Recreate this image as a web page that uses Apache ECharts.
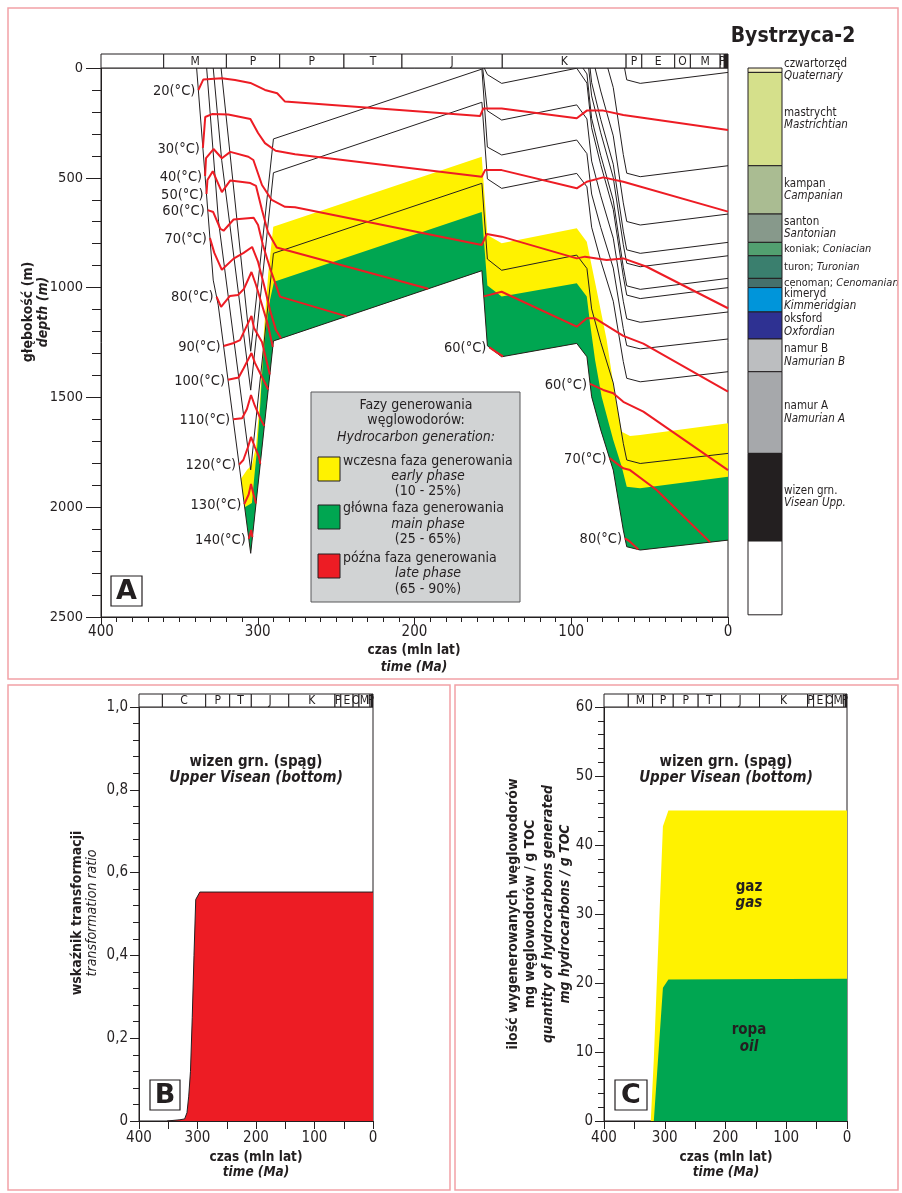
<!DOCTYPE html>
<html>
<head>
<meta charset="utf-8">
<script src="https://cdn.jsdelivr.net/npm/echarts/dist/echarts.min.js"></script>
<style>
html,body{margin:0;padding:0;background:#fff}
#chart{width:902px;height:1193px}
</style>
</head>
<body>
<div id="chart"></div>
<script>
// ---------- geological time scale (Ma) ----------
const stripA = [['',400,360],['M',360,320],['P',320,286],['P',286,245],['T',245,208],['J',208,144],['K',144,65],['P',65,55],['E',55,34],['O',34,24],['M',24,5],['P',5,2.4],['Q',2.4,0]];
const stripB = [['',400,360],['C',360,286],['P',286,245],['T',245,208],['J',208,144],['K',144,65],['P',65,55],['E',55,34],['O',34,24],['M',24,5],['P',5,2.4],['Q',2.4,0]];
const stripC = stripA;

// ---------- present-day stratigraphy, Bystrzyca-2 (m) ----------
const layerNamesPL = ['czwartorzęd','mastrycht','kampan','santon','koniak; ','turon; ','cenoman; ','kimeryd','oksford','namur B','namur A','wizen grn.',''];
const layerNamesEN = ['Quaternary','Mastrichtian','Campanian','Santonian','Coniacian','Turonian','Cenomanian','Kimmeridgian','Oxfordian','Namurian B','Namurian A','Visean Upp.',''];
const layerTops  = [0, 20, 445, 665, 794, 855, 958, 1000, 1111, 1234, 1383, 1755, 2154];
const layerBases = [20, 445, 665, 794, 855, 958, 1000, 1111, 1234, 1383, 1755, 2154, 2490];

// ---------- burial history: horizons [age Ma, depth m] ----------
const wizenBase = [[339,0],[328.4,966],[325.2,1080],[304.5,2210],[290,1243],[157,923],[153.5,1265],[144.4,1315],[96.5,1254],[90,1315],[87,1497],[81.2,1648],[73.2,1831],[66.8,2104],[64.6,2180],[56,2195],[0,2150]];
const wizenTop  = [[332.6,0],[325,700],[304.5,1830],[290,844],[157,525],[153.5,870],[144.4,921],[96.5,852],[90,913],[87,1097],[81.2,1249],[73.2,1434],[66.8,1709],[64.6,1785],[56,1801],[0,1755]];
const namurATop = [[328.4,0],[323,420],[304.5,1467],[290,477],[157,156],[153.5,505],[144.4,548],[96.5,480],[90,541],[87,725],[81.2,877],[73.2,1062],[66.8,1337],[64.6,1413],[56,1429],[0,1383]];
const namurBTop = [[323.4,0],[304.5,1290],[290,323],[157,5],[153.5,360],[144.4,396],[96.5,328],[90,390],[87,574],[81.2,726],[73.2,911],[66.8,1187],[64.6,1264],[56,1279],[0,1234]];
const oxfordTop = [[156.5,0],[153.5,195],[144.4,237],[96.5,168],[90,232],[87,424],[81.2,582],[73.2,775],[66.8,1062],[64.6,1142],[56,1158],[0,1111]];
const kimmTop   = [[155.5,0],[153.5,30],[144.4,70],[96.5,1],[90,69],[87,272],[81.2,440],[73.2,644],[66.8,949],[64.6,1034],[56,1050],[0,1000]];
const cenomanTop = [[92.6,0],[90,27],[87,230],[81.2,398],[73.2,602],[66.8,907],[64.6,992],[56,1008],[0,958]];
const turonTop   = [[88.9,0],[87,127],[81.2,295],[73.2,499],[66.8,804],[64.6,889],[56,905],[0,855]];
const coniacTop  = [[88,0],[87,66],[81.2,234],[73.2,438],[66.8,743],[64.6,828],[56,844],[0,794]];
const santonTop  = [[84.8,0],[81.2,105],[73.2,309],[66.8,614],[64.6,699],[56,715],[0,665]];
const campanTop  = [[76.7,0],[73.2,89],[66.8,394],[64.6,479],[56,495],[0,445]];
const maastrTop  = [[66,0],[64.6,54],[56,70],[0,20]];

// ---------- maturity zone boundaries ----------
const earlyTop = [[310.7,1870],[306.9,1831],[303.7,1808],[301.1,1721],[298.6,1512],[296.0,1193],[293.3,935],[290.1,723],[157.1,404],[153.5,760],[144.4,798],[96.5,730],[90.1,791],[83.8,1011],[77.4,1239],[72.1,1489],[67.8,1656],[62.5,1676],[56.1,1671],[0,1618]];
const mainTop  = [[308.3,2000],[303.7,1981],[302.4,1876],[300.5,1740],[298.6,1557],[296.7,1330],[294.8,1193],[292.2,1057],[289.6,973],[157.1,656],[153.5,990],[144.4,1041],[96.5,980],[90.1,1041],[88.0,1163],[84.8,1330],[80.6,1497],[73.2,1694],[67.8,1816],[64.6,1907],[56.1,1914],[0,1861]];

// ---------- isotherms ----------
const iso20  = [[337.9,100],[334.7,52],[323,47],[314.5,55],[304.7,68],[295.4,100],[287.6,115],[282.6,153],[158.2,219],[156.1,184],[144.4,184],[96.5,229],[90.1,194],[79.6,194],[66.8,214],[0,282]];
const iso30  = [[335,364],[333.5,223],[329.2,210],[318.8,212],[304.7,232],[299.8,296],[295.4,342],[288.6,377],[276.2,393],[157.1,495],[155,465],[144.4,465],[96.5,548],[90.1,518],[79.6,498],[66.8,518],[0,654]];
const iso40  = [[333.6,492],[333,410],[328.2,369],[322.9,411],[317.5,382],[306,404],[302.8,419],[297.3,533],[291.1,601],[282.6,632],[276.2,634],[157.1,806],[153.9,756],[144.4,768],[96.5,867],[91.2,859],[77.4,874],[66.8,867],[51.9,905],[0,1094]];
const iso50a = [[332.7,574],[332.1,510],[328.7,470],[322.9,565],[317.5,512],[304.7,524],[301.1,537],[297.3,647],[293.5,747],[287.9,817],[191.2,1005]];
const iso50b = [[155.8,1040],[144.4,1019],[96.5,1178],[90.1,1140],[84.8,1140],[66.8,1220],[54,1255],[0,1474]];
const iso60a = [[331.9,647],[328.4,656],[323.9,732],[321.8,741],[315.4,690],[302.6,682],[299.8,715],[296.7,806],[292.2,911],[285.8,1041],[243.3,1131]];
const iso60b = [[152.2,1272],[148,1293],[143.5,1313]];
const iso60c = [[88,1438],[79.6,1466],[73.2,1481],[66.8,1520],[54,1565],[0,1831]];
const iso70a = [[330.5,774],[327.7,842],[322.9,919],[315.4,868],[309,842],[303.6,815],[299.8,883],[296,988],[292.2,1102],[288.4,1193],[285.2,1230]];
const iso70b = [[75.6,1776],[66.8,1823],[62.5,1831],[45.5,1922],[11.5,2159]];
const iso80a = [[326.3,1041],[323.4,1088],[317.7,1038],[312.6,1034],[308.8,1006],[304,929],[301.1,988],[296.7,1093],[293.5,1170],[290.4,1270]];
const iso80b = [[65.7,2142],[62.5,2157],[57.2,2192]];
const iso90  = [[321.8,1266],[315.2,1252],[311.3,1239],[304,1129],[302.4,1184],[297.3,1248],[292.3,1396]];
const iso100 = [[319,1420],[312.2,1409],[309,1367],[304,1298],[301.8,1343],[297.3,1407],[293.3,1464]];
const iso110 = [[315.7,1599],[310,1595],[306.9,1553],[304.3,1489],[301.8,1539],[297.9,1603],[295.8,1630]];
const iso120 = [[311.9,1806],[309.2,1785],[306.2,1726],[304.3,1680],[301.8,1726],[299.2,1771],[298.4,1803]];
const iso130 = [[308.6,1986],[305.8,1942],[304.3,1894],[302.6,1944],[301.1,1983]];
const iso140 = [[305.7,2144],[304.2,2104],[303.4,2137]];

// ---------- transformation ratio (panel B) ----------
const trAges   = [352, 330, 322, 318, 315, 312, 309, 306, 303, 296, 0];
const trValues = [0, 0.003, 0.005, 0.02, 0.06, 0.12, 0.25, 0.40, 0.535, 0.553, 0.553];

// ---------- generated hydrocarbons, mg HC / g TOC (panel C) ----------
const hcAges    = [323, 318, 303, 294, 0];
const oilValues = [0, 0, 19.3, 20.5, 20.6];
const gasValues = [0, 9, 23.4, 24.5, 24.4];

// ---------- styling ----------
const FONT = '"DejaVu Sans Condensed", "Liberation Sans Narrow", sans-serif';
const INK = '#231f20';
const YELLOW = '#fff200', GREEN = '#00a651', RED = '#ed1c24';
const layerColors = ['#f4f0c2','#d5e08b','#aabc92','#87998b','#52a070','#3a7f6e','#45706b','#0095da','#2e3192','#bcbec0','#a6a8ab','#231f20','#ffffff'];

const horizons = [wizenBase, wizenTop, namurATop, namurBTop, oxfordTop, kimmTop, cenomanTop, turonTop, coniacTop, santonTop, campanTop, maastrTop];
const isoSegments = [
  [20, iso20, true], [30, iso30, true], [40, iso40, true], [50, iso50a, true], [50, iso50b, false],
  [60, iso60a, true], [60, iso60b, true], [60, iso60c, true], [70, iso70a, true], [70, iso70b, true],
  [80, iso80a, true], [80, iso80b, true], [90, iso90, true], [100, iso100, true], [110, iso110, true],
  [120, iso120, true], [130, iso130, true], [140, iso140, true]
];

// closing edge of the maturity polygons: the source-rock base from today back to maximum burial
const vBottom = wizenBase.findIndex(p => p[0] === 304.5);
const baseBack = wizenBase.slice(vBottom).reverse();

function polygonSeries(points, color, z) {
  return {
    type: 'custom', xAxisIndex: 0, yAxisIndex: 0, z: z, silent: true, data: [[0, 0]],
    renderItem: (params, api) => ({
      type: 'polygon',
      shape: { points: points.map(p => api.coord(p)) },
      style: { fill: color }
    })
  };
}

function stripSeries(cells, xi, yi) {
  return {
    type: 'custom', xAxisIndex: xi, yAxisIndex: yi, z: 5, silent: true,
    data: cells.map((c, i) => [c[1], 0, i]),
    renderItem: (params, api) => {
      const c = cells[params.dataIndex];
      const a = api.coord([c[1], 1]);
      const b = api.coord([c[2], 0]);
      const x0 = Math.min(a[0], b[0]);
      const w = Math.abs(b[0] - a[0]);
      const dark = c[0] === 'Q';
      return {
        type: 'group',
        children: [
          { type: 'rect', shape: { x: x0, y: a[1], width: w, height: b[1] - a[1] },
            style: { fill: dark ? INK : '#fff', stroke: INK, lineWidth: 1 } },
          { type: 'text', style: { text: dark ? '' : c[0], x: x0 + w / 2, y: (a[1] + b[1]) / 2 + 0.5,
            align: 'center', verticalAlign: 'middle', textAlign: 'center', textVerticalAlign: 'middle',
            font: '12px ' + FONT, fill: INK } }
        ]
      };
    }
  };
}

const columnSeries = {
  type: 'custom', xAxisIndex: 1, yAxisIndex: 1, z: 5, silent: true,
  data: layerTops.map((t, i) => [0, t, i]),
  renderItem: (params, api) => {
    const i = params.dataIndex;
    const a = api.coord([0, layerTops[i]]);
    const b = api.coord([1, layerBases[i]]);
    const children = [
      { type: 'rect', shape: { x: a[0], y: a[1], width: b[0] - a[0], height: b[1] - a[1] },
        style: { fill: layerColors[i], stroke: INK, lineWidth: 1 } }
    ];
    if (layerNamesPL[i]) {
      const oneLine = layerNamesPL[i].endsWith('; ');
      const fs = oneLine ? 11 : 11.5;
      const txt = oneLine ? '{a|' + layerNamesPL[i] + '}{b|' + layerNamesEN[i] + '}'
                          : '{a|' + layerNamesPL[i] + '}\n{b|' + layerNamesEN[i] + '}';
      children.push({ type: 'text', style: {
        text: txt, x: b[0] + 2, y: (a[1] + b[1]) / 2,
        align: 'left', verticalAlign: 'middle', textAlign: 'left', textVerticalAlign: 'middle',
        fill: INK,
        rich: {
          a: { fontFamily: FONT, fontSize: fs, lineHeight: 12.5, fill: INK, color: INK },
          b: { fontFamily: FONT, fontSize: fs, lineHeight: 12.5, fontStyle: 'italic', fill: INK, color: INK }
        }
      } });
    }
    return { type: 'group', children: children };
  }
};

// temperature labels, placed at the first point of each labelled isotherm segment
const isoLabelSeries = {
  type: 'custom', xAxisIndex: 0, yAxisIndex: 0, z: 6, silent: true,
  data: isoSegments.filter(s => s[2]).map(s => [s[1][0][0], s[1][0][1], s[0]]),
  renderItem: (params, api) => {
    const p = api.coord([api.value(0), api.value(1)]);
    return { type: 'text', style: {
      text: api.value(2) + '(°C)', x: p[0] - 3, y: p[1] + 1,
      align: 'right', verticalAlign: 'middle', textAlign: 'right', textVerticalAlign: 'middle',
      font: '14.5px ' + FONT, fill: INK } };
  }
};

const series = [];
series.push(polygonSeries(earlyTop.concat(baseBack), YELLOW, 1));
series.push(polygonSeries(mainTop.concat(baseBack), GREEN, 1));
horizons.forEach(h => series.push({
  type: 'line', xAxisIndex: 0, yAxisIndex: 0, data: h, showSymbol: false, silent: true, z: 2,
  lineStyle: { color: INK, width: 1 }, animation: false
}));
isoSegments.forEach(s => series.push({
  type: 'line', xAxisIndex: 0, yAxisIndex: 0, data: s[1], showSymbol: false, silent: true, z: 3,
  lineStyle: { color: RED, width: 2 }, animation: false
}));
series.push(isoLabelSeries);
series.push(stripSeries(stripA, 2, 2));
series.push(stripSeries(stripB, 4, 4));
series.push(stripSeries(stripC, 6, 6));
series.push(columnSeries);
series.push({
  type: 'line', xAxisIndex: 3, yAxisIndex: 3, showSymbol: false, silent: true, z: 2,
  data: trAges.map((a, i) => [a, trValues[i]]),
  lineStyle: { color: INK, width: 1 }, areaStyle: { color: RED, opacity: 1 }
});
series.push({
  type: 'line', xAxisIndex: 5, yAxisIndex: 5, showSymbol: false, silent: true, z: 2,
  data: hcAges.map((a, i) => [a, oilValues[i] + gasValues[i]]),
  lineStyle: { width: 0 }, areaStyle: { color: YELLOW, opacity: 1 }
});
series.push({
  type: 'line', xAxisIndex: 5, yAxisIndex: 5, showSymbol: false, silent: true, z: 3,
  data: hcAges.map((a, i) => [a, oilValues[i]]),
  lineStyle: { width: 0 }, areaStyle: { color: GREEN, opacity: 1 }
});

const axisText = { fontFamily: FONT, fontSize: 15, color: INK };
function timeAxis(grid, minorSplit, tickLen, minorLen, margin) {
  return {
    type: 'value', gridIndex: grid, min: 0, max: 400, interval: 100, inverse: true,
    axisLine: { show: true, onZero: false, lineStyle: { color: INK, width: 1 } },
    axisTick: { show: true, length: tickLen, lineStyle: { color: INK } },
    minorTick: { show: true, splitNumber: minorSplit, length: minorLen, lineStyle: { color: INK } },
    axisLabel: Object.assign({ margin: margin, formatter: v => String(v) }, axisText),
    splitLine: { show: false }, minorSplitLine: { show: false }
  };
}
function hidden(grid, min, max, inverse) {
  return { type: 'value', gridIndex: grid, min: min, max: max, inverse: !!inverse, show: false };
}

const option = {
  animation: false,
  backgroundColor: '#fff',
  grid: [
    { left: 101, top: 68, width: 627, height: 549, show: true, borderColor: INK, borderWidth: 1 },
    { left: 748, top: 68, width: 34, height: 549 },
    { left: 101, top: 54, width: 627, height: 14 },
    { left: 139, top: 707, width: 234, height: 414, show: true, borderColor: INK, borderWidth: 1 },
    { left: 139, top: 694, width: 234, height: 13 },
    { left: 604, top: 707, width: 243, height: 414, show: true, borderColor: INK, borderWidth: 1 },
    { left: 604, top: 694, width: 243, height: 13 }
  ],
  xAxis: [
    timeAxis(0, 10, 8, 5, 8),
    hidden(1, 0, 1),
    hidden(2, 0, 400, true),
    timeAxis(3, 2, 8, 8, 10),
    hidden(4, 0, 400, true),
    timeAxis(5, 2, 8, 8, 10),
    hidden(6, 0, 400, true)
  ],
  yAxis: [
    {
      type: 'value', gridIndex: 0, min: 0, max: 2500, interval: 500, inverse: true,
      axisLine: { show: true, onZero: false, lineStyle: { color: INK } },
      axisTick: { show: true, length: 15, lineStyle: { color: INK } },
      minorTick: { show: true, splitNumber: 5, length: 9, lineStyle: { color: INK } },
      axisLabel: Object.assign({ margin: 18, formatter: v => String(v) }, axisText, { fontSize: 14.5 }),
      splitLine: { show: false }, minorSplitLine: { show: false }
    },
    hidden(1, 0, 2500, true),
    hidden(2, 0, 1),
    {
      type: 'value', gridIndex: 3, min: 0, max: 1, interval: 0.2,
      axisLine: { show: true, onZero: false, lineStyle: { color: INK } },
      axisTick: { show: true, length: 9, lineStyle: { color: INK } },
      minorTick: { show: true, splitNumber: 5, length: 6, lineStyle: { color: INK } },
      axisLabel: Object.assign({ margin: 11, formatter: v => v === 0 ? '0' : v.toFixed(1).replace('.', ',') }, axisText),
      splitLine: { show: false }, minorSplitLine: { show: false }
    },
    hidden(4, 0, 1),
    {
      type: 'value', gridIndex: 5, min: 0, max: 60, interval: 10,
      axisLine: { show: true, onZero: false, lineStyle: { color: INK } },
      axisTick: { show: true, length: 9, lineStyle: { color: INK } },
      minorTick: { show: true, splitNumber: 5, length: 6, lineStyle: { color: INK } },
      axisLabel: Object.assign({ margin: 11, formatter: v => String(v) }, axisText),
      splitLine: { show: false }, minorSplitLine: { show: false }
    },
    hidden(6, 0, 1)
  ],
  series: series
};

// ---------- annotation texts, legend box and frames ----------
function text(str, x, y, opt) {
  opt = opt || {};
  const size = opt.size || 14;
  const font = (opt.italic ? 'italic ' : '') + (opt.bold ? 'bold ' : '') + size + 'px ' + (opt.family || FONT);
  const al = opt.align || 'center';
  return {
    type: 'text', x: x, y: y, rotation: opt.rot || 0, z: 100, silent: true,
    style: { text: str, x: 0, y: 0, font: font, fill: opt.color || INK,
      align: al, verticalAlign: 'middle', textAlign: al, textVerticalAlign: 'middle' }
  };
}
function box(x, y, w, h, fill, stroke, lw) {
  return { type: 'rect', z: 90, silent: true, shape: { x: x, y: y, width: w, height: h },
    style: { fill: fill, stroke: stroke, lineWidth: lw === undefined ? 1 : lw } };
}
const R90 = Math.PI / 2;
const frame = '#f2a1a6';
const LG = 14;

option.graphic = [
  box(8, 8, 890, 671, 'none', frame, 1.5),
  box(8, 685, 442, 505, 'none', frame, 1.5),
  box(455, 685, 443, 505, 'none', frame, 1.5),

  text('Bystrzyca-2', 793, 37, { bold: true, size: 21 }),

  // panel A axis titles
  text('głębokość (m)', 28, 312, { bold: true, size: 14, rot: R90 }),
  text('depth (m)', 43, 312, { bold: true, italic: true, size: 14, rot: R90 }),
  text('czas (mln lat)', 414, 650, { bold: true, size: 13.5 }),
  text('time (Ma)', 414, 667, { bold: true, italic: true, size: 13.5 }),

  // legend of generation phases
  box(311, 392, 209, 210, '#d1d3d4', '#58595b', 1),
  text('Fazy generowania', 416, 405, { size: LG }),
  text('węglowodorów:', 416, 420, { size: LG }),
  text('Hydrocarbon generation:', 416, 437, { size: LG, italic: true }),
  box(318, 457, 22, 24, YELLOW, INK, 1),
  text('wczesna faza generowania', 343, 461, { size: LG, align: 'left' }),
  text('early phase', 428, 476, { size: LG, italic: true }),
  text('(10 - 25%)', 428, 491, { size: LG }),
  box(318, 505, 22, 24, GREEN, INK, 1),
  text('główna faza generowania', 343, 508, { size: LG, align: 'left' }),
  text('main phase', 428, 524, { size: LG, italic: true }),
  text('(25 - 65%)', 428, 539, { size: LG }),
  box(318, 554, 22, 24, RED, INK, 1),
  text('późna faza generowania', 343, 558, { size: LG, align: 'left' }),
  text('late phase', 428, 573, { size: LG, italic: true }),
  text('(65 - 90%)', 428, 589, { size: LG }),

  // panel letters
  box(111, 576, 31, 30, '#fff', INK, 1.2),
  text('A', 126.5, 592, { bold: true, size: 27, family: '"DejaVu Sans", sans-serif' }),
  box(150, 1080, 30, 30, '#fff', INK, 1.2),
  text('B', 165, 1096, { bold: true, size: 27, family: '"DejaVu Sans", sans-serif' }),
  box(615, 1080, 32, 30, '#fff', INK, 1.2),
  text('C', 631, 1096, { bold: true, size: 27, family: '"DejaVu Sans", sans-serif' }),

  // panel B
  text('wizen grn. (spąg)', 256, 762, { bold: true, size: 15 }),
  text('Upper Visean (bottom)', 256, 778, { bold: true, italic: true, size: 15 }),
  text('wskaźnik transformacji', 77, 913, { bold: true, size: 14, rot: R90 }),
  text('transformation ratio', 92, 913, { italic: true, size: 14, rot: R90 }),
  text('czas (mln lat)', 256, 1157, { bold: true, size: 13.5 }),
  text('time (Ma)', 256, 1172, { bold: true, italic: true, size: 13.5 }),

  // panel C
  text('wizen grn. (spąg)', 726, 762, { bold: true, size: 15 }),
  text('Upper Visean (bottom)', 726, 778, { bold: true, italic: true, size: 15 }),
  text('gaz', 749, 887, { bold: true, size: 15 }),
  text('gas', 749, 903, { bold: true, italic: true, size: 15 }),
  text('ropa', 749, 1030, { bold: true, size: 15 }),
  text('oil', 749, 1047, { bold: true, italic: true, size: 15 }),
  text('ilość wygenerowanych węglowodorów', 513, 914, { bold: true, size: 14, rot: R90 }),
  text('mg węglowodorów / g TOC', 530, 914, { bold: true, size: 14, rot: R90 }),
  text('quantity of hydrocarbons generated', 548, 914, { bold: true, italic: true, size: 14, rot: R90 }),
  text('mg hydrocarbons / g TOC', 565, 914, { bold: true, italic: true, size: 14, rot: R90 }),
  text('czas (mln lat)', 726, 1157, { bold: true, size: 13.5 }),
  text('time (Ma)', 726, 1172, { bold: true, italic: true, size: 13.5 })
];

const chart = echarts.init(document.getElementById('chart'), null, { renderer: 'canvas' });
chart.setOption(option);
</script>
</body>
</html>
